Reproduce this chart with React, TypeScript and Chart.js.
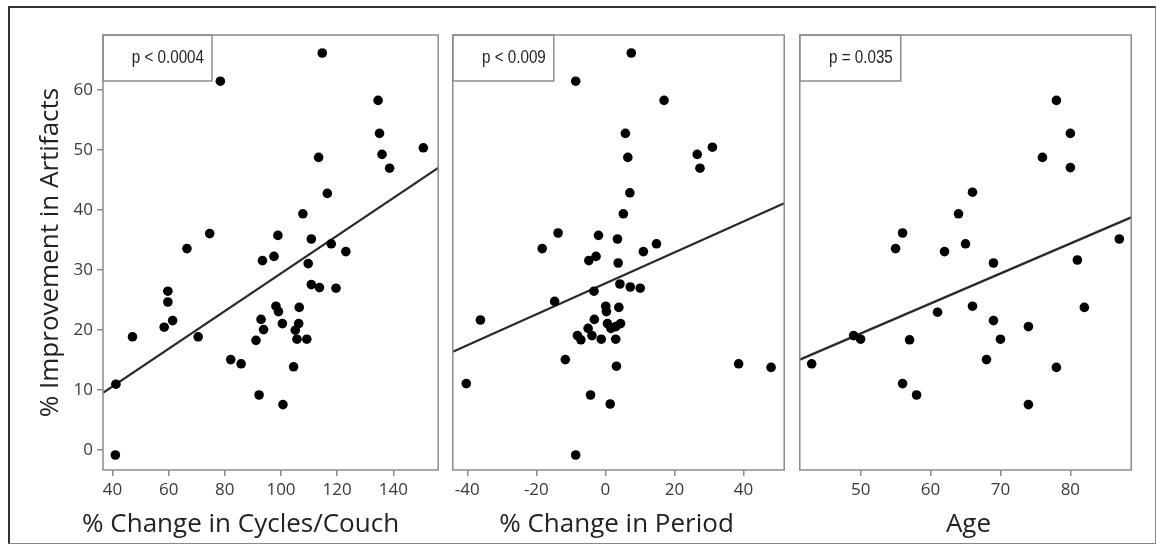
import React, { useEffect, useRef } from "react";
import { Chart, registerables } from "chart.js";

Chart.register(...registerables);

// ---------- data ----------
const cyclesX = [114.7, 78.4, 134.6, 135.1, 150.7, 136.0, 113.4, 138.7, 116.5, 107.8, 74.6, 98.9, 110.8, 66.5, 117.9, 123.1, 97.5, 93.4, 109.7, 59.7, 59.7, 110.8, 113.7, 119.6, 106.5, 98.2, 99.1, 92.9, 61.4, 100.5, 106.3, 58.4, 93.8, 105.1, 105.7, 109.2, 91.1, 47.1, 70.5, 82.1, 85.8, 104.5, 41.2, 92.2, 100.7, 41.0];
const cyclesY = [66.2, 61.5, 58.3, 52.8, 50.4, 49.3, 48.8, 47.0, 42.8, 39.4, 36.1, 35.8, 35.2, 33.6, 34.4, 33.1, 32.3, 31.6, 31.1, 26.5, 24.7, 27.6, 27.1, 27.0, 23.8, 24.0, 23.1, 21.8, 21.6, 21.1, 21.1, 20.5, 20.1, 20.0, 18.5, 18.5, 18.3, 18.9, 18.9, 15.1, 14.4, 13.9, 11.0, 9.2, 7.6, -0.8];

const periodX = [7.5, -8.6, 17.0, 5.8, 31.0, 26.6, 6.5, 27.4, 7.1, 5.2, -13.7, -2.0, 3.5, -18.3, 14.8, 11.0, -2.7, -4.8, 3.7, -3.3, -14.7, 4.2, 7.2, 10.1, 0.1, 3.9, 0.3, -3.2, -36.2, 0.6, 4.4, -5.0, 1.6, 3.0, -3.9, -8.1, -7.1, -1.2, 3.0, -11.6, 38.6, 48.0, 3.2, -40.3, -4.3, 1.4, -8.6];
const periodY = [66.2, 61.5, 58.3, 52.8, 50.5, 49.3, 48.8, 47.0, 42.9, 39.4, 36.2, 35.8, 35.2, 33.6, 34.4, 33.1, 32.3, 31.6, 31.2, 26.5, 24.8, 27.7, 27.2, 27.0, 24.0, 23.8, 23.1, 21.8, 21.7, 21.1, 21.1, 20.3, 20.3, 20.6, 19.1, 19.1, 18.4, 18.5, 18.5, 15.1, 14.4, 13.8, 14.0, 11.1, 9.2, 7.7, -0.8];

const ageX = [78, 80, 76, 80, 66, 64, 56, 55, 65, 62, 69, 87, 81, 66, 61, 69, 82, 74, 49, 50, 57, 70, 68, 43, 78, 56, 58, 74];
const ageY = [58.3, 52.8, 48.8, 47.1, 43.0, 39.4, 36.2, 33.6, 34.4, 33.1, 31.2, 35.2, 31.7, 24.0, 23.0, 21.6, 23.8, 20.6, 19.1, 18.5, 18.4, 18.5, 15.1, 14.4, 13.8, 11.1, 9.2, 7.6];

const yTicks = [0, 10, 20, 30, 40, 50, 60];
const cyclesTicks = [40, 60, 80, 100, 120, 140];
const periodTicks = [-40, -20, 0, 20, 40];
const ageTicks = [50, 60, 70, 80];

const yRange = [-3.3, 69.2];
const cyclesRange = [36.6, 156];
const periodRange = [-44.2, 51.8];
const ageRange = [41.3, 88.7];

// regression lines: y = intercept + slope * x
const fitIntercepts = [-1.93, 27.8, -5.55];
const fitSlopes = [0.314, 0.258, 0.5];

const pLabels = ["p < 0.0004", "p < 0.009", "p = 0.035"];
const xTitles = ["% Change in Cycles/Couch", "% Change in Period", "Age"];
const yTitle = "% Improvement in Artifacts";

// ---------- drawing ----------
const FONT = '"Open Sans", "DejaVu Sans", sans-serif';
Chart.defaults.font.family = FONT;

const decorPlugin = {
  id: "decor",
  afterDatasetsDraw(chart: any, _args: any, opts: any) {
    const { ctx, chartArea: a } = chart;
    ctx.save();
    ctx.strokeStyle = "#8c8c8c";
    ctx.lineWidth = 1.5;
    ctx.strokeRect(a.left, a.top, a.right - a.left, a.bottom - a.top);
    // p-value box
    ctx.strokeRect(a.left, a.top, opts.boxW, 46);
    ctx.fillStyle = "#222";
    ctx.font = '19px "Liberation Sans", sans-serif';
    ctx.textAlign = "right";
    ctx.textBaseline = "middle";
    ctx.save();
    ctx.translate(a.left + opts.boxW - 8, a.top + 23);
    ctx.scale(0.8, 1);
    ctx.fillText(opts.pLabel, 0, 0);
    ctx.restore();
    // x title
    ctx.font = "26px " + FONT;
    ctx.fillStyle = "#222";
    ctx.textAlign = "center";
    ctx.textBaseline = "middle";
    ctx.fillText(opts.xTitle, (a.left + a.right) / 2 + opts.titleShift, opts.titleY);
    ctx.restore();
  },
};

type PanelProps = {
  idx: number;
  xs: number[];
  ys: number[];
  xTicks: number[];
  xRange: number[];
  left: number;
  width: number;
  showY: boolean;
  boxW: number;
  titleShift: number;
};

function Panel({ idx, xs, ys, xTicks, xRange, left, width, showY, boxW, titleShift }: PanelProps) {
  const ref = useRef<HTMLCanvasElement>(null);
  useEffect(() => {
    const pts = xs.map((x, i) => ({ x, y: ys[i] }));
    const b0 = fitIntercepts[idx];
    const b1 = fitSlopes[idx];
    const line = [
      { x: xRange[0], y: b0 + b1 * xRange[0] },
      { x: xRange[1], y: b0 + b1 * xRange[1] },
    ];
    const chart = new Chart(ref.current as HTMLCanvasElement, {
      type: "scatter",
      data: {
        datasets: [
          {
            data: pts,
            backgroundColor: "#000",
            borderWidth: 0,
            pointRadius: 4.8,
            pointHoverRadius: 4.8,
          },
          {
            type: "line",
            data: line,
            borderColor: "#2a2a2a",
            borderWidth: 2.3,
            pointRadius: 0,
            showLine: true,
            fill: false,
          } as any,
        ],
      },
      options: {
        responsive: false,
        animation: false,
        events: [],
        layout: { padding: { top: 35, bottom: 0, left: showY ? 0 : 2, right: 2 } },
        plugins: {
          legend: { display: false },
          tooltip: { enabled: false },
          decor: { boxW, pLabel: pLabels[idx], xTitle: xTitles[idx], titleShift, titleY: 525 },
        } as any,
        scales: {
          x: {
            type: "linear",
            position: "bottom",
            min: xRange[0],
            max: xRange[1],
            afterBuildTicks: (s: any) => {
              s.ticks = xTicks.map((v) => ({ value: v }));
            },
            afterFit: (s: any) => {
              s.height = 74;
            },
            ticks: {
              font: { size: 17 },
              color: "#3a3a3a",
              padding: 4,
              maxRotation: 0,
              autoSkip: false,
            },
            grid: { drawOnChartArea: false, drawTicks: true, tickLength: 6, color: "#8c8c8c", lineWidth: 1.5 },
            border: { display: false },
            title: { display: false },
          },
          y: {
            type: "linear",
            display: showY,
            min: yRange[0],
            max: yRange[1],
            afterBuildTicks: (s: any) => {
              s.ticks = yTicks.map((v) => ({ value: v }));
            },
            afterFit: (s: any) => {
              s.width = showY ? 91 : 0;
            },
            ticks: { font: { size: 17 }, color: "#3a3a3a", padding: 4 },
            grid: { drawOnChartArea: false, drawTicks: true, tickLength: 6, color: "#8c8c8c", lineWidth: 1.5 },
            border: { display: false },
            title: {
              display: true,
              text: yTitle,
              font: { size: 26 },
              color: "#222",
              padding: { top: 23, bottom: 0 },
            },
          },
        },
      },
      plugins: [decorPlugin],
    } as any);
    return () => chart.destroy();
  }, []);
  return (
    <canvas
      ref={ref}
      width={width}
      height={544}
      style={{ position: "absolute", left, top: 0, width, height: 544 }}
    />
  );
}

export default function App() {
  return (
    <div style={{ position: "absolute", left: 0, top: 0, width: 1157, height: 544, background: "#fff", overflow: "hidden" }}>
      <div
        style={{
          position: "absolute",
          left: 8,
          top: 6,
          width: 1148,
          height: 538,
          boxSizing: "border-box",
          borderTop: "2px solid #333",
          borderLeft: "2px solid #333",
          borderRight: "1px solid #888",
          borderBottom: "1px solid #888",
        }}
      />
      <Panel idx={0} xs={cyclesX} ys={cyclesY} xTicks={cyclesTicks} xRange={cyclesRange} left={12} width={431} showY={true} boxW={109} titleShift={-30} />
      <Panel idx={1} xs={periodX} ys={periodY} xTicks={periodTicks} xRange={periodRange} left={448} width={341} showY={false} boxW={101} titleShift={-2} />
      <Panel idx={2} xs={ageX} ys={ageY} xTicks={ageTicks} xRange={ageRange} left={795} width={341} showY={false} boxW={101} titleShift={3} />
    </div>
  );
}
